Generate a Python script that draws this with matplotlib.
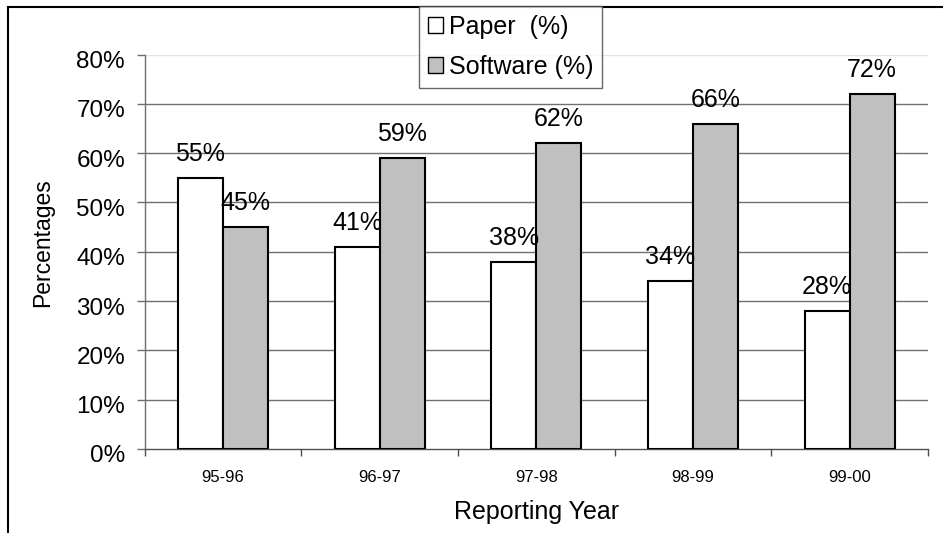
import matplotlib
matplotlib.use("Agg")
import matplotlib.pyplot as plt
from matplotlib.patches import Patch
from matplotlib.lines import Line2D
from matplotlib.transforms import ScaledTranslation
from matplotlib import font_manager
import numpy as np

years = ["95-96", "96-97", "97-98", "98-99", "99-00"]
paper_pct = [55, 41, 38, 34, 28]
software_pct = [45, 59, 62, 66, 72]
series_names = ["Paper  (%)", "Software (%)"]
y_ticks = [0, 10, 20, 30, 40, 50, 60, 70, 80]

available = {f.name for f in font_manager.fontManager.ttflist}
main_font = "Liberation Sans" if "Liberation Sans" in available else "DejaVu Sans"
narrow_font = "Liberation Sans Narrow" if "Liberation Sans Narrow" in available else main_font
plt.rcParams["font.family"] = [main_font, "DejaVu Sans"]

W, H = 943, 533
fig = plt.figure(figsize=(W / 100, H / 100), dpi=100)
ax = fig.add_axes([144.5 / W, 1 - 449 / H, (928 - 144.5) / W, (449 - 54.5) / H])

x = np.arange(len(years))
bw = 0.287
edge = dict(edgecolor="black", linewidth=1.5, zorder=3)
b1 = ax.bar(x - bw / 2, paper_pct, bw, color="white", **edge)
b2 = ax.bar(x + bw / 2, software_pct, bw, color="#c0c0c0", **edge)

# value labels above each bar
for bars, vals in ((b1, paper_pct), (b2, software_pct)):
    for r, v in zip(bars, vals):
        ax.annotate(f"{v}%", (r.get_x() + r.get_width() / 2, v),
                    xytext=(0, 12.2), textcoords="offset points",
                    ha="center", va="baseline", fontsize=18, zorder=5)

ax.set_xlim(-0.5, len(years) - 0.5)
ax.set_ylim(0, 80)
ax.set_yticks(y_ticks)
ax.set_yticklabels([f"{t}%" for t in y_ticks], fontsize=17.5)

# horizontal gridlines
for t in y_ticks[1:]:
    ax.axhline(t, color="#e4e4e4" if t == 80 else "#707070",
               linewidth=1.0, zorder=1)

# category ticks sit between groups, labels at the centres
ax.set_xticks(np.arange(-0.5, len(years), 1.0))
ax.set_xticklabels([])
ax.set_xticks(x, minor=True)
ax.set_xticklabels(years, minor=True, fontsize=12, family=[narrow_font, "DejaVu Sans"])
ax.tick_params(axis="x", which="major", direction="out", length=5, width=1, color="#505050")
ax.tick_params(axis="x", which="minor", length=0, pad=15)
ax.tick_params(axis="y", direction="out", length=6, width=1, color="#707070", pad=8)

for s in ("top", "right"):
    ax.spines[s].set_visible(False)
ax.spines["left"].set_color("#707070")
ax.spines["bottom"].set_color("#505050")
ax.spines["left"].set_linewidth(1.0)
ax.spines["bottom"].set_linewidth(1.0)

ax.set_ylabel("Percentages", fontsize=16.5)
ax.yaxis.set_label_coords(-0.1155, 0.522)
ax.set_xlabel("Reporting Year", fontsize=18, labelpad=11)

handles = [Patch(facecolor="white", edgecolor="black", linewidth=1.0),
           Patch(facecolor="#c0c0c0", edgecolor="black", linewidth=1.0)]
leg = fig.legend(handles, series_names, loc="upper left",
                 bbox_to_anchor=(419 / W, 1 - 6 / H), bbox_transform=fig.transFigure,
                 fontsize=18, frameon=True, fancybox=False, shadow=False,
                 handlelength=0.62, handleheight=0.62, handletextpad=0.22,
                 labelspacing=0.65, borderpad=0.35, borderaxespad=0)
leg.get_frame().set_edgecolor("#404040")
leg.get_frame().set_linewidth(1.0)

# y tick labels sit a few pixels below their ticks
shift = ScaledTranslation(0, -5 / 100, fig.dpi_scale_trans)
for lab in ax.get_yticklabels():
    lab.set_transform(lab.get_transform() + shift)

# outer border (top and left edges)
fig.add_artist(Line2D([8 / W, 1.0], [1 - 7 / H, 1 - 7 / H], transform=fig.transFigure,
                      color="black", linewidth=1.5))
fig.add_artist(Line2D([8 / W, 8 / W], [0, 1 - 7 / H], transform=fig.transFigure,
                      color="black", linewidth=1.5))

fig.savefig("out.png", dpi=100, facecolor="white")
